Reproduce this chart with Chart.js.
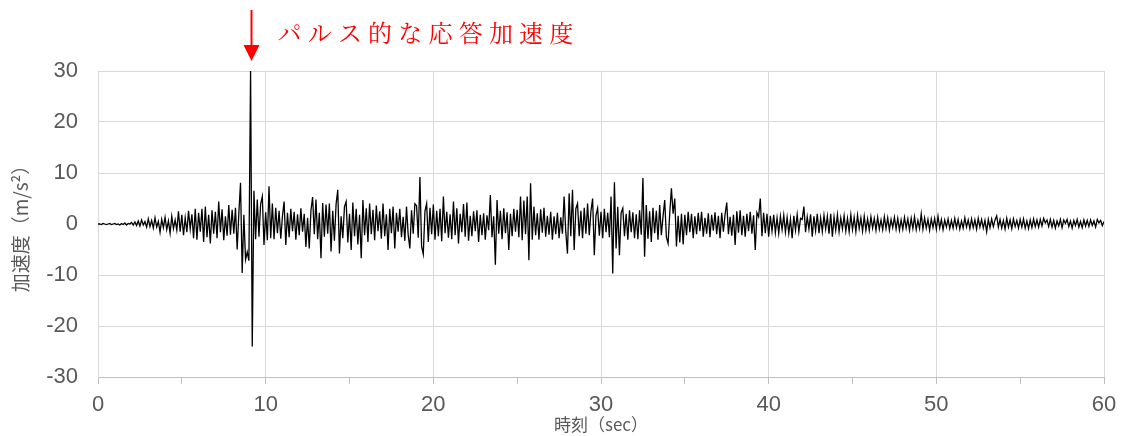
<!DOCTYPE html>
<html lang="ja">
<head>
<meta charset="utf-8">
<title>応答加速度</title>
<script src="https://cdn.jsdelivr.net/npm/chart.js@4/dist/chart.umd.min.js"></script>
<style>
  html, body { margin: 0; padding: 0; background: #fff; }
  #wrap { width: 1129px; height: 436px; }
</style>
</head>
<body>
<div id="wrap"><canvas id="accChart" width="1129" height="436"></canvas></div>
<script>
// sampling step of the record (sec)
const DT = 0.1;

// acceleration (m/s2), 10 values per second
const accel00_10 = [
  0, 0, -0.1, 0.1, 0, -0.1, 0, 0.1, -0.1, 0,
  0.1, -0.1, 0, -0.2, 0.1, -0.1, 0.2, -0.2, 0.1, 0,
  0.3, -0.2, 0.4, -0.3, 0.6, -0.4, 0.8, -0.2, 0.5, -0.6,
  1.0, -0.5, 0.7, -0.8, 1.2, -0.6, 0.5, -1.6, 0.9, -0.7,
  1.3, -1.1, 0.6, -1.8, 1.5, -0.9, 0.8, -1.2, 2.5, -1.5,
  1.8, -2.2, 1.2, -1.6, 2.6, -1.0, 1.9, -2.8, 3.0, -3.1,
  2.2, -1.5, 3.0, -3.5, 3.4, -2.6, 1.8, -3.8, 2.7, -1.9,
  2.4, -2.8, 4.4, -1.6, 2.9, -3.2, 1.5, -2.3, 3.7, -2.1,
  2.8, -1.9, 3.2, -5.0, 2.1, 8.1, -9.6, 1.8, -7.0, -5.5,
  -7.2, 30, -24, 6.5, -3.0, 4.8, -2.5, 3.9, 5.4, -4.1
];
const accel10_20 = [
  2.3, -3.2, 7.4, -2.8, 4.0, -3.0, 3.2, -1.8, 2.6, -2.9,
  1.5, 4.4, -4.1, 2.2, -2.6, 3.0, -1.4, 2.4, -3.1, 1.9,
  -2.2, 3.1, -1.5, 2.0, -4.5, 1.2, -4.8, 2.6, 5.3, -2.0,
  4.8, -3.0, 2.2, -6.7, 4.1, -2.5, 3.8, -1.9, 4.0, -5.4,
  2.6, -3.3, 3.9, 6.7, -5.8, 1.5, -2.8, 3.4, 4.4, -3.6,
  2.0, -5.1, 4.2, -2.4, 3.0, -4.0, 1.8, -6.7, 4.7, -2.2,
  3.1, -3.5, 4.0, -2.0, 2.8, -3.2, 3.6, -1.4, 2.5, -2.9,
  4.0, -2.4, 1.9, -5.1, 3.0, -1.8, 3.4, -4.8, 2.2, -1.5,
  3.0, -2.6, 1.4, -3.3, 3.4, -2.1, -4.8, 2.7, -1.9, 4.0,
  3.6, -2.7, 9.2, -4.4, -5.9, 2.5, 4.0, -3.5, 3.2, -2.0
];
const accel20_30 = [
  3.8, -3.1, 2.6, -2.4, 3.0, -3.4, 5.4, -1.8, 2.4, -2.7,
  1.9, -3.0, 4.4, -2.2, 3.1, -3.8, 2.0, -1.6, 3.9, -2.5,
  4.2, -3.3, 1.6, -2.4, 2.5, -1.4, 2.7, -3.5, 1.8, -2.2,
  2.1, -3.1, 1.7, -1.2, 5.7, -2.6, 1.5, -8.0, 4.7, -1.9,
  2.6, -3.0, 3.1, -1.8, 2.3, -5.1, 2.0, -2.4, 3.0, -1.5,
  2.8, -2.6, 5.4, -3.2, 4.6, -2.0, 5.4, -7.1, 8.0, -3.1,
  3.4, -2.2, 2.1, -3.1, 2.9, -1.7, 3.2, -2.5, 1.6, -2.1,
  2.4, -3.1, 1.5, -2.0, 2.2, -2.8, 1.3, -1.9, 5.4, -1.6,
  -5.8, 6.0, -2.4, 6.7, -5.1, 3.0, 4.0, -2.4, 2.6, -2.8,
  3.2, -1.9, 4.0, -2.2, 2.5, 5.0, -6.1, 1.7, 3.1, -2.3
];
const accel30_40 = [
  2.4, -2.8, 3.0, -1.6, 2.2, -2.6, 5.4, -9.7, 8.2, -4.8,
  3.4, -6.1, 2.2, 3.1, -2.4, 2.0, -3.1, 2.7, -1.6, 2.3,
  -2.8, 1.9, -3.0, 2.7, -2.1, 9.0, -6.4, 3.7, -2.9, 2.5,
  -3.5, 3.2, -1.8, 2.6, -3.1, 3.7, -2.2, 1.5, 4.7, -2.6,
  -3.8, 2.1, 7.0, 2.0, 5.0, -4.4, 1.6, -3.6, 2.0, -4.0,
  1.8, -2.2, 2.4, -1.6, 2.0, -2.8, 1.5, -2.0, 2.2, -1.4,
  2.4, -2.5, 1.2, -1.9, 2.1, -2.6, 1.8, -1.3, 2.3, -2.0,
  1.6, -2.8, 2.2, -1.5, 1.9, 4.2, -2.0, 1.4, -2.3, 1.8,
  -4.1, 2.5, -1.7, 2.7, -2.2, 1.6, -2.5, 2.0, -1.4, 2.4,
  -1.9, 1.7, -5.1, 2.2, 1.4, 5.0, -2.4, 2.2, -1.8, 2.0
];
const accel40_50 = [
  -2.5, 1.6, -1.4, 1.8, -1.7, 1.2, -1.8, 1.5, -1.1, 1.7,
  -1.6, 1.3, -1.8, 1.0, -2.8, 1.6, -1.2, 1.8, -1.5, 1.1,
  0.9, 3.4, -1.6, 1.4, -1.0, 1.9, -2.5, 1.5, -1.3, 2.0,
  -1.8, 1.2, -1.5, 1.7, -1.0, 1.5, -1.9, 2.0, -2.5, 1.4,
  -1.2, 1.8, -1.5, 1.2, -1.0, 1.6, -1.4, 1.1, -1.5, 1.8,
  -1.1, 1.3, -1.5, 1.7, -0.9, 1.2, -1.4, 1.5, -1.2, 1.0,
  -1.2, 1.4, -0.8, 1.1, -1.2, 1.3, -1.0, 0.8, -1.1, 1.4,
  -0.9, 1.2, -1.2, 0.9, -0.7, 1.3, -1.0, 1.1, -1.2, 0.8,
  -1.0, 1.3, -0.8, 1.0, -1.2, 1.1, -0.9, 1.4, -1.1, 0.7,
  -0.9, 2.0, -1.0, 1.2, -0.8, 0.9, -1.2, 1.0, -0.7, 1.1
];
const accel50_60 = [
  -1.0, 1.5, -0.8, 0.9, -1.1, 0.8, -0.6, 1.0, -0.9, 0.7,
  -0.8, 1.1, -0.7, 0.9, -1.0, 0.6, -0.8, 1.2, -0.6, 0.8,
  -0.9, 1.0, -0.7, 0.8, -1.0, 1.1, -0.6, 0.9, -0.8, 0.7,
  -1.5, 0.9, -0.7, 1.0, -0.5, 0.8, 1.6, -0.6, 0.9, -0.8,
  0.7, -1.0, 1.1, -0.6, 0.8, -0.9, 1.0, -0.5, 0.7, -0.8,
  0.9, -0.6, 1.0, -0.8, 0.6, -0.9, 0.8, -0.7, 1.0, -0.5,
  0.8, -0.6, 0.9, -0.4, 1.1, 0.2, 0.8, -0.5, 0.9, -0.6,
  0.7, -0.8, 0.6, -0.4, 0.9, -0.7, 0.8, 0.1, 0.9, -0.5,
  0.6, -0.8, 0.7, -0.3, 0.9, -0.6, 0.5, -0.7, 0.8, -0.4,
  0.7, -0.5, 0.8, -0.3, 0.6, -0.6, 0.9, 0.2, 0.7, -0.3,
  0.5
];

// axes
const X_TICK_MARKS = [0, 5, 10, 15, 20, 25, 30, 35, 40, 45, 50, 55, 60];
const X_TICK_LABELS = [0, 10, 20, 30, 40, 50, 60];
const Y_TICKS = [-30, -20, -10, 0, 10, 20, 30];
const X_TITLE = '時刻（sec）';
const Y_TITLE = '加速度（m/s²）';

// callout
const PULSE_TIME = 9.1;
const PULSE_LABEL = 'パルス的な応答加速度';

const GRAY_TEXT = '#595959';
const GRID = '#d9d9d9';

const accel = [...accel00_10, ...accel10_20, ...accel20_30, ...accel30_40, ...accel40_50, ...accel50_60];
const points = accel.map((v, i) => ({ x: Math.round(i * DT * 10) / 10, y: v }));

// red arrow + label pointing at the pulse
const pulseNote = {
    id: 'pulseNote',
    afterDraw(chart) {
        const ctx = chart.ctx;
        const x = Math.round(chart.scales.x.getPixelForValue(PULSE_TIME)) + 0.5;
        ctx.save();
        ctx.strokeStyle = '#ff0000';
        ctx.fillStyle = '#ff0000';
        ctx.lineWidth = 2;
        ctx.beginPath();
        ctx.moveTo(x, 10);
        ctx.lineTo(x, 47);
        ctx.stroke();
        ctx.beginPath();
        ctx.moveTo(x - 8, 45);
        ctx.lineTo(x + 8, 45);
        ctx.lineTo(x, 61);
        ctx.closePath();
        ctx.fill();
        ctx.font = '24px "Noto Serif CJK JP", "Noto Sans CJK JP", sans-serif';
        ctx.textBaseline = 'middle';
        [...PULSE_LABEL].forEach((ch, i) => ctx.fillText(ch, x + 26 + i * 30.2, 33));
        ctx.restore();
    }
};

const ctx = document.getElementById('accChart').getContext('2d');
new Chart(ctx, {
    type: 'line',
    data: {
        datasets: [{
            label: '応答加速度',
            data: points,
            borderColor: '#000',
            borderWidth: 1.3,
            pointRadius: 0,
            tension: 0,
            fill: false
        }]
    },
    options: {
        responsive: false,
        animation: false,
        parsing: false,
        layout: { padding: { top: 71, right: 25, left: 0, bottom: 0 } },
        plugins: {
            legend: { display: false },
            tooltip: { enabled: false }
        },
        scales: {
            x: {
                type: 'linear',
                min: 0,
                max: 60,
                afterBuildTicks: s => { s.ticks = X_TICK_MARKS.map(v => ({ value: v })); },
                afterFit: s => { s.height = 59; },
                ticks: {
                    color: GRAY_TEXT,
                    font: { family: '"Liberation Sans", Arial, sans-serif', size: 22 },
                    padding: 8,
                    maxRotation: 0,
                    autoSkip: false,
                    callback: v => X_TICK_LABELS.includes(v) ? String(v) : ''
                },
                grid: {
                    color: c => (c.tick && c.tick.value % 10 === 0) ? GRID : 'rgba(0,0,0,0)',
                    tickColor: '#bfbfbf',
                    tickLength: 7,
                    lineWidth: 1
                },
                border: { color: '#bfbfbf', width: 1 },
                title: {
                    display: true,
                    text: X_TITLE,
                    color: GRAY_TEXT,
                    font: { family: '"Noto Sans CJK JP", sans-serif', size: 17, lineHeight: 1 },
                    padding: { top: 0, bottom: 3 }
                }
            },
            y: {
                min: -30,
                max: 30,
                afterBuildTicks: s => { s.ticks = Y_TICKS.map(v => ({ value: v })); },
                afterFit: s => { s.width = 98; },
                ticks: {
                    color: GRAY_TEXT,
                    font: { family: '"Liberation Sans", Arial, sans-serif', size: 22 },
                    padding: 20
                },
                grid: { color: GRID, drawTicks: false, lineWidth: 1 },
                border: { color: GRID, width: 1 },
                title: {
                    display: true,
                    text: Y_TITLE,
                    color: GRAY_TEXT,
                    font: { family: '"Noto Sans CJK JP", sans-serif', size: 19, lineHeight: 1 },
                    padding: { top: 11, bottom: 0 }
                }
            }
        }
    },
    plugins: [pulseNote]
});
</script>
</body>
</html>
